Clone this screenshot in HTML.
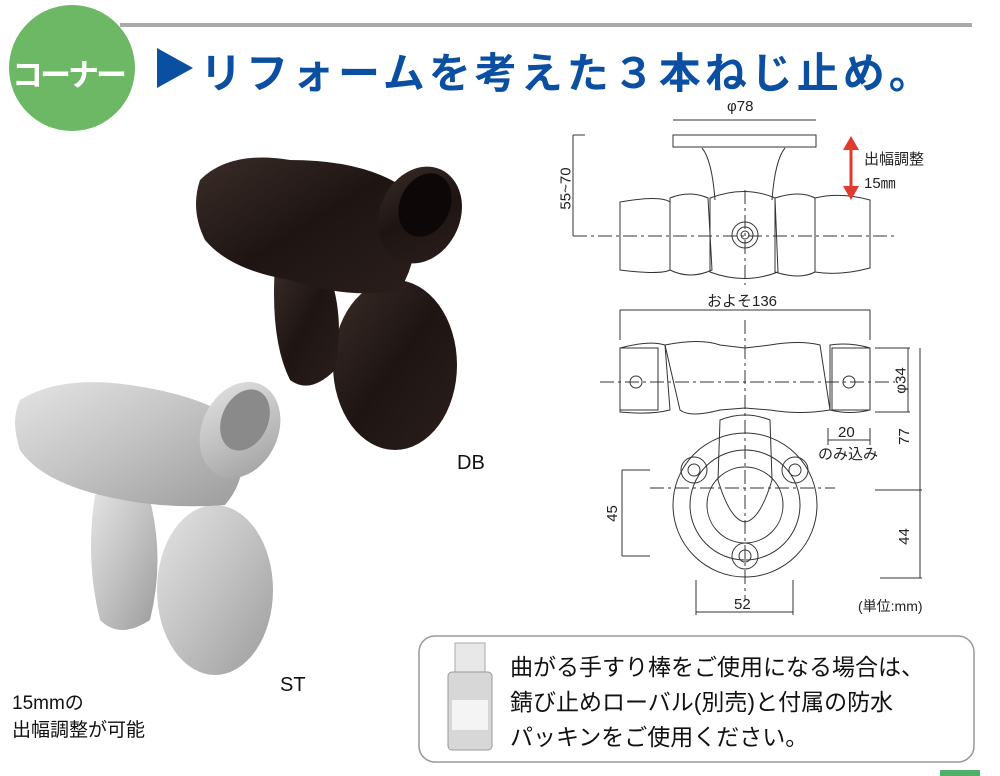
<!DOCTYPE html>
<html><head><meta charset="utf-8"><style>
body{margin:0;width:1000px;height:776px;background:#fff;overflow:hidden;position:relative;font-family:"Liberation Sans","Noto Sans CJK JP",sans-serif}
.t{position:absolute;white-space:nowrap}
</style></head><body>
<svg width="1000" height="776" style="position:absolute;left:0;top:0">
<defs>
<linearGradient id="dk" x1="0" x2="1" y1="0" y2="1"><stop offset="0" stop-color="#3a2c28"/><stop offset=".5" stop-color="#1e1513"/><stop offset="1" stop-color="#2a1e1b"/></linearGradient>
<linearGradient id="sv" x1="0" x2="1" y1="0" y2="1"><stop offset="0" stop-color="#e4e4e4"/><stop offset=".5" stop-color="#c2c2c2"/><stop offset="1" stop-color="#9c9c9c"/></linearGradient>
</defs>
<line x1="120" y1="25" x2="972" y2="25" stroke="#a9a9a9" stroke-width="4"/>
<circle cx="72" cy="68" r="63" fill="#6cb864"/>
<polygon points="157,48 157,88 193,68" fill="#0b4fa2"/>
<g fill="url(#dk)">
<ellipse cx="395" cy="365" rx="62" ry="85"/>
<path d="M275,265 Q300,250 330,275 Q345,320 335,370 Q310,395 290,380 Q270,340 275,265Z"/>
<path d="M200,180 Q230,150 290,160 Q360,160 400,185 Q430,240 400,290 Q350,300 290,280 Q230,270 205,240 Q190,210 200,180Z"/>
<ellipse cx="420" cy="215" rx="40" ry="50" transform="rotate(25 420 215)"/>
</g>
<ellipse cx="425" cy="205" rx="25" ry="33" transform="rotate(25 425 205)" fill="#0d0807"/>
<g fill="url(#sv)">
<ellipse cx="215" cy="590" rx="58" ry="85"/>
<path d="M95,495 Q125,480 150,500 Q165,560 150,620 Q120,640 100,620 Q85,560 95,495Z"/>
<path d="M20,400 Q60,375 130,385 Q200,395 235,420 Q255,470 225,505 Q160,510 100,495 Q40,480 20,450 Q10,420 20,400Z"/>
<ellipse cx="240" cy="430" rx="38" ry="50" transform="rotate(25 240 430)"/>
</g>
<ellipse cx="245" cy="420" rx="23" ry="32" transform="rotate(25 245 420)" fill="#8a8a8a"/>
<g fill="none" stroke="#333" stroke-width="1">
<line x1="673" y1="120" x2="816" y2="120"/>
<rect x="673" y="135" width="143" height="12"/>
<path d="M702,148 Q712,160 715,200 M785,148 Q775,160 772,200"/>
<path d="M620,202 Q660,195 670,202 L670,270 Q660,275 620,270Z"/>
<path d="M670,198 Q690,190 708,198 L712,270 Q690,280 670,270Z"/>
<path d="M710,198 Q745,185 775,198 L778,272 Q745,285 710,272Z"/>
<path d="M775,198 Q800,190 815,198 L815,272 Q800,280 775,272Z"/>
<path d="M815,198 Q840,192 870,200 L870,268 Q840,276 815,272Z"/>
<circle cx="745" cy="235" r="13"/><circle cx="745" cy="235" r="8"/><circle cx="745" cy="235" r="4"/>
<line x1="573" y1="135" x2="573" y2="236"/><line x1="573" y1="135" x2="585" y2="135"/>
<line x1="573" y1="236" x2="895" y2="236" stroke-dasharray="14,4,3,4"/>
<line x1="745" y1="190" x2="745" y2="285" stroke-dasharray="14,4,3,4"/>
<line x1="620" y1="310" x2="870" y2="310"/><line x1="620" y1="310" x2="620" y2="340"/><line x1="870" y1="310" x2="870" y2="340"/>
<path d="M620,348 Q650,340 665,345 L670,410 Q650,415 620,412Z"/>
<rect x="620" y="348" width="38" height="62"/>
<path d="M665,345 Q700,338 720,345 L745,348 L770,345 Q800,340 820,345 L830,410 Q800,415 770,410 L745,408 L720,410 Q690,418 680,410Z"/>
<path d="M830,345 Q850,342 870,348 L870,410 Q850,415 830,410Z"/>
<rect x="832" y="348" width="38" height="62"/>
<circle cx="636" cy="382" r="6"/><circle cx="849" cy="382" r="6"/>
<line x1="600" y1="382" x2="895" y2="382" stroke-dasharray="14,4,3,4"/>
<line x1="745" y1="320" x2="745" y2="600" stroke-dasharray="14,4,3,4"/>
<line x1="875" y1="348" x2="910" y2="348"/><line x1="875" y1="412" x2="910" y2="412"/><line x1="908" y1="348" x2="908" y2="412"/>
<line x1="920" y1="348" x2="920" y2="578"/><line x1="875" y1="490" x2="922" y2="490"/><line x1="880" y1="578" x2="922" y2="578"/>
<line x1="828" y1="440" x2="870" y2="440"/><line x1="828" y1="428" x2="828" y2="445"/><line x1="870" y1="428" x2="870" y2="445"/>
<circle cx="745" cy="505" r="72"/><circle cx="745" cy="505" r="55"/><circle cx="745" cy="505" r="38"/>
<path d="M720,420 Q745,410 770,420 L772,480 Q760,520 745,522 Q730,520 718,480Z"/>
<circle cx="694" cy="470" r="13"/><circle cx="694" cy="470" r="6"/>
<circle cx="795" cy="470" r="13"/><circle cx="795" cy="470" r="6"/>
<circle cx="745" cy="556" r="13"/><circle cx="745" cy="556" r="6"/>
<line x1="650" y1="488" x2="835" y2="488" stroke-dasharray="14,4,3,4"/>
<line x1="622" y1="470" x2="650" y2="470"/><line x1="622" y1="556" x2="650" y2="556"/><line x1="622" y1="470" x2="622" y2="556"/>
<line x1="696" y1="580" x2="696" y2="615"/><line x1="793" y1="580" x2="793" y2="615"/><line x1="696" y1="612" x2="793" y2="612"/>
</g>
<line x1="851" y1="140" x2="851" y2="195" stroke="#e03a2e" stroke-width="3"/>
<polygon points="843,150 851,136 859,150" fill="#e03a2e"/><polygon points="843,186 851,200 859,186" fill="#e03a2e"/>
<rect x="419" y="636" width="555" height="126" rx="16" fill="none" stroke="#999" stroke-width="1.5"/>
<rect x="455" y="643" width="30" height="32" fill="#e8e8e8" stroke="#aaa"/>
<rect x="448" y="672" width="44" height="78" rx="4" fill="#d7d7d7" stroke="#999"/>
<rect x="452" y="700" width="36" height="30" fill="#f4f4f4"/>
<rect x="940" y="770" width="40" height="6" fill="#4fb06a"/>
</svg>
<div class="t" style="left:12px;top:50px;font-size:31px;font-weight:bold;color:#fff;letter-spacing:-3px">コーナー</div>
<div class="t" style="left:200px;top:40px;font-size:42px;font-weight:bold;color:#0b4fa2;letter-spacing:4px">リフォームを考えた３本ねじ止め。</div>
<div class="t" style="left:727px;top:98px;font-size:15px;color:#222">φ78</div>
<div class="t" style="left:864px;top:148px;font-size:15px;color:#222">出幅調整</div>
<div class="t" style="left:864px;top:172px;font-size:15px;color:#222">15㎜</div>
<div class="t" style="left:545px;top:180px;font-size:15px;color:#222;transform:rotate(-90deg)">55~70</div>
<div class="t" style="left:707px;top:290px;font-size:15px;color:#222">およそ136</div>
<div class="t" style="left:888px;top:372px;font-size:15px;color:#222;transform:rotate(-90deg)">φ34</div>
<div class="t" style="left:896px;top:428px;font-size:15px;color:#222;transform:rotate(-90deg)">77</div>
<div class="t" style="left:838px;top:424px;font-size:15px;color:#222">20</div>
<div class="t" style="left:818px;top:443px;font-size:15px;color:#222">のみ込み</div>
<div class="t" style="left:604px;top:505px;font-size:15px;color:#222;transform:rotate(-90deg)">45</div>
<div class="t" style="left:896px;top:528px;font-size:15px;color:#222;transform:rotate(-90deg)">44</div>
<div class="t" style="left:734px;top:596px;font-size:15px;color:#222">52</div>
<div class="t" style="left:858px;top:596px;font-size:14px;color:#222">(単位:mm)</div>
<div class="t" style="left:457px;top:452px;font-size:20px;color:#111">DB</div>
<div class="t" style="left:280px;top:674px;font-size:20px;color:#111">ST</div>
<div class="t" style="left:12px;top:690px;font-size:19px;color:#111;line-height:27px">15mmの<br>出幅調整が可能</div>
<div class="t" style="left:510px;top:650px;font-size:23px;color:#111;line-height:35px">曲がる手すり棒をご使用になる場合は、<br>錆び止めローバル(別売)と付属の防水<br>パッキンをご使用ください。</div>
</body></html>
